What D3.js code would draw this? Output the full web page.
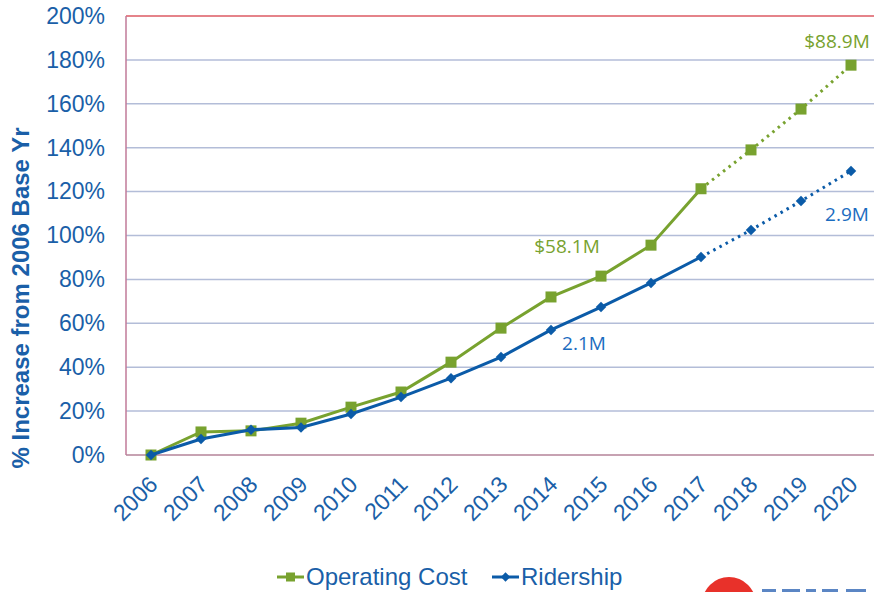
<!DOCTYPE html>
<html>
<head>
<meta charset="utf-8">
<script src="https://cdn.jsdelivr.net/npm/d3@7"></script>
<style>
body{margin:0;background:#fff}
svg{display:block}
</style>
</head>
<body>
<svg></svg>
<script>
var years=["2006","2007","2008","2009","2010","2011","2012","2013","2014","2015","2016","2017","2018","2019","2020"]
var operatingCost=[0,10.5,11,14.5,21.8,28.7,42.3,57.8,72,81.5,95.6,121.3,139,157.6,177.6]
var ridership=[0,7.3,11.5,12.5,18.7,26.4,35,44.6,57,67.4,78.4,90.2,102.5,115.7,129.4]
var yTicks=[0,20,40,60,80,100,120,140,160,180,200]
var lastActual=11 // index of 2017, projections after are dotted

var screen={width:874,height:592}
var green="#78a22f", blue="#0b5ba8", labelBlue="#1a5fa8"
var margin={left:126,top:16,right:-2,bottom:137}

var svg=d3.select("svg")
  .attr("width",screen.width)
  .attr("height",screen.height)

var xScale=d3.scaleBand()
  .domain(years)
  .range([margin.left,screen.width-margin.right])
var yScale=d3.scaleLinear()
  .domain([0,200])
  .range([screen.height-margin.bottom,margin.top])
var xc=function(i){return xScale(years[i])+xScale.bandwidth()/2}

// gridlines
svg.append("g")
  .selectAll("line")
  .data(yTicks.filter(function(d){return d>0&&d<200}))
  .enter()
  .append("line")
  .attr("x1",margin.left)
  .attr("x2",screen.width)
  .attr("y1",function(d){return yScale(d)})
  .attr("y2",function(d){return yScale(d)})
  .attr("stroke","#b3bdd8")
  .attr("stroke-width",1.5)

// borders
svg.append("line").attr("x1",margin.left).attr("x2",screen.width)
  .attr("y1",yScale(200)).attr("y2",yScale(200))
  .attr("stroke","#dc5a63").attr("stroke-width",1.5)
svg.append("line").attr("x1",margin.left).attr("x2",margin.left)
  .attr("y1",yScale(200)).attr("y2",yScale(0))
  .attr("stroke","#c07a98").attr("stroke-width",1.5)
svg.append("line").attr("x1",margin.left).attr("x2",screen.width)
  .attr("y1",yScale(0)).attr("y2",yScale(0))
  .attr("stroke","#b58399").attr("stroke-width",1.5)

// y axis labels
var yAxis=d3.axisLeft(yScale).tickValues(yTicks)
  .tickFormat(function(d){return d+"%"}).tickSize(0).tickPadding(21)
var yg=svg.append("g").attr("transform","translate("+margin.left+",0)").call(yAxis)
yg.select(".domain").remove()
yg.selectAll("text")
  .attr("fill",labelBlue)
  .style("font-family","Liberation Sans, Arial, sans-serif")
  .style("font-size","23px")

// x axis labels
var xAxis=d3.axisBottom(xScale).tickSize(0).tickPadding(0)
var xg=svg.append("g").attr("transform","translate(0,"+yScale(0)+")").call(xAxis)
xg.select(".domain").remove()
xg.selectAll("text")
  .attr("fill",labelBlue)
  .attr("text-anchor","end")
  .attr("dy","0")
  .attr("transform","translate(8,31) rotate(-45)")
  .style("font-family","Liberation Sans, Arial, sans-serif")
  .style("font-size","23px")

// y title
svg.append("text")
  .attr("transform","translate(29,298) rotate(-90)")
  .attr("text-anchor","middle")
  .attr("fill",labelBlue)
  .style("font-family","Liberation Sans, Arial, sans-serif")
  .style("font-weight","bold")
  .style("font-size","24px")
  .text("%  Increase from 2006 Base Yr")

var line=d3.line()
  .x(function(d){return xc(d.i)})
  .y(function(d){return yScale(d.v)})

var drawSeries=function(values,color,marker)
{
  var pts=values.map(function(v,i){return {i:i,v:v}})
  svg.append("path")
    .datum(pts.slice(0,lastActual+1))
    .attr("d",line)
    .attr("fill","none")
    .attr("stroke",color)
    .attr("stroke-width",3)
  svg.append("path")
    .datum(pts.slice(lastActual))
    .attr("d",line)
    .attr("fill","none")
    .attr("stroke",color)
    .attr("stroke-width",3)
    .attr("stroke-dasharray","2.5 4.5")
  var g=svg.append("g")
  if(marker=="square")
  {
    g.selectAll("rect").data(pts).enter().append("rect")
      .attr("x",function(d){return xc(d.i)-5.5})
      .attr("y",function(d){return yScale(d.v)-5.5})
      .attr("width",11).attr("height",11)
      .attr("fill",color)
  }
  else
  {
    g.selectAll("path").data(pts).enter().append("path")
      .attr("d",d3.symbol().type(d3.symbolDiamond2).size(70))
      .attr("transform",function(d){return "translate("+xc(d.i)+","+yScale(d.v)+")"})
      .attr("fill",color)
  }
}
drawSeries(operatingCost,green,"square")
drawSeries(ridership,blue,"diamond")

// annotations
var notes=[
  {t:"$88.9M",x:837,y:48,c:green},
  {t:"2.9M",x:847,y:221,c:"#1b6cc0"},
  {t:"$58.1M",x:567,y:253,c:green},
  {t:"2.1M",x:584,y:350,c:"#1b6cc0"}
]
svg.selectAll(".note").data(notes).enter().append("text")
  .attr("class","note")
  .attr("x",function(d){return d.x})
  .attr("y",function(d){return d.y})
  .attr("text-anchor","middle")
  .attr("fill",function(d){return d.c})
  .style("font-family","Open Sans, sans-serif")
  .style("font-size","19px")
  .text(function(d){return d.t})

// legend
var legend=[{t:"Operating Cost",c:green,m:"square",x:277},{t:"Ridership",c:blue,m:"diamond",x:492}]
legend.forEach(function(d)
{
  var ly=577
  svg.append("line").attr("x1",d.x).attr("x2",d.x+27).attr("y1",ly).attr("y2",ly)
    .attr("stroke",d.c).attr("stroke-width",3)
  if(d.m=="square")
    svg.append("rect").attr("x",d.x+9).attr("y",ly-4.5).attr("width",9).attr("height",9).attr("fill",d.c)
  else
    svg.append("path").attr("d",d3.symbol().type(d3.symbolDiamond2).size(55)())
      .attr("transform","translate("+(d.x+13.5)+","+ly+")").attr("fill",d.c)
  svg.append("text").attr("x",d.x+29).attr("y",ly+8)
    .attr("fill",labelBlue)
    .style("font-family","Liberation Sans, Arial, sans-serif")
    .style("font-size","24px")
    .text(d.t)
})

// logo fragment bottom right (mostly outside the frame)
svg.append("circle").attr("cx",729).attr("cy",604).attr("r",27).attr("fill","#e8312a")
var logoBits=[[762,14],[782,18],[806,10],[822,16],[846,20]]
svg.selectAll(".logo").data(logoBits).enter().append("rect")
  .attr("class","logo")
  .attr("x",function(d){return d[0]}).attr("y",589)
  .attr("width",function(d){return d[1]}).attr("height",3)
  .attr("fill","#5b86c4")
</script>
</body>
</html>
